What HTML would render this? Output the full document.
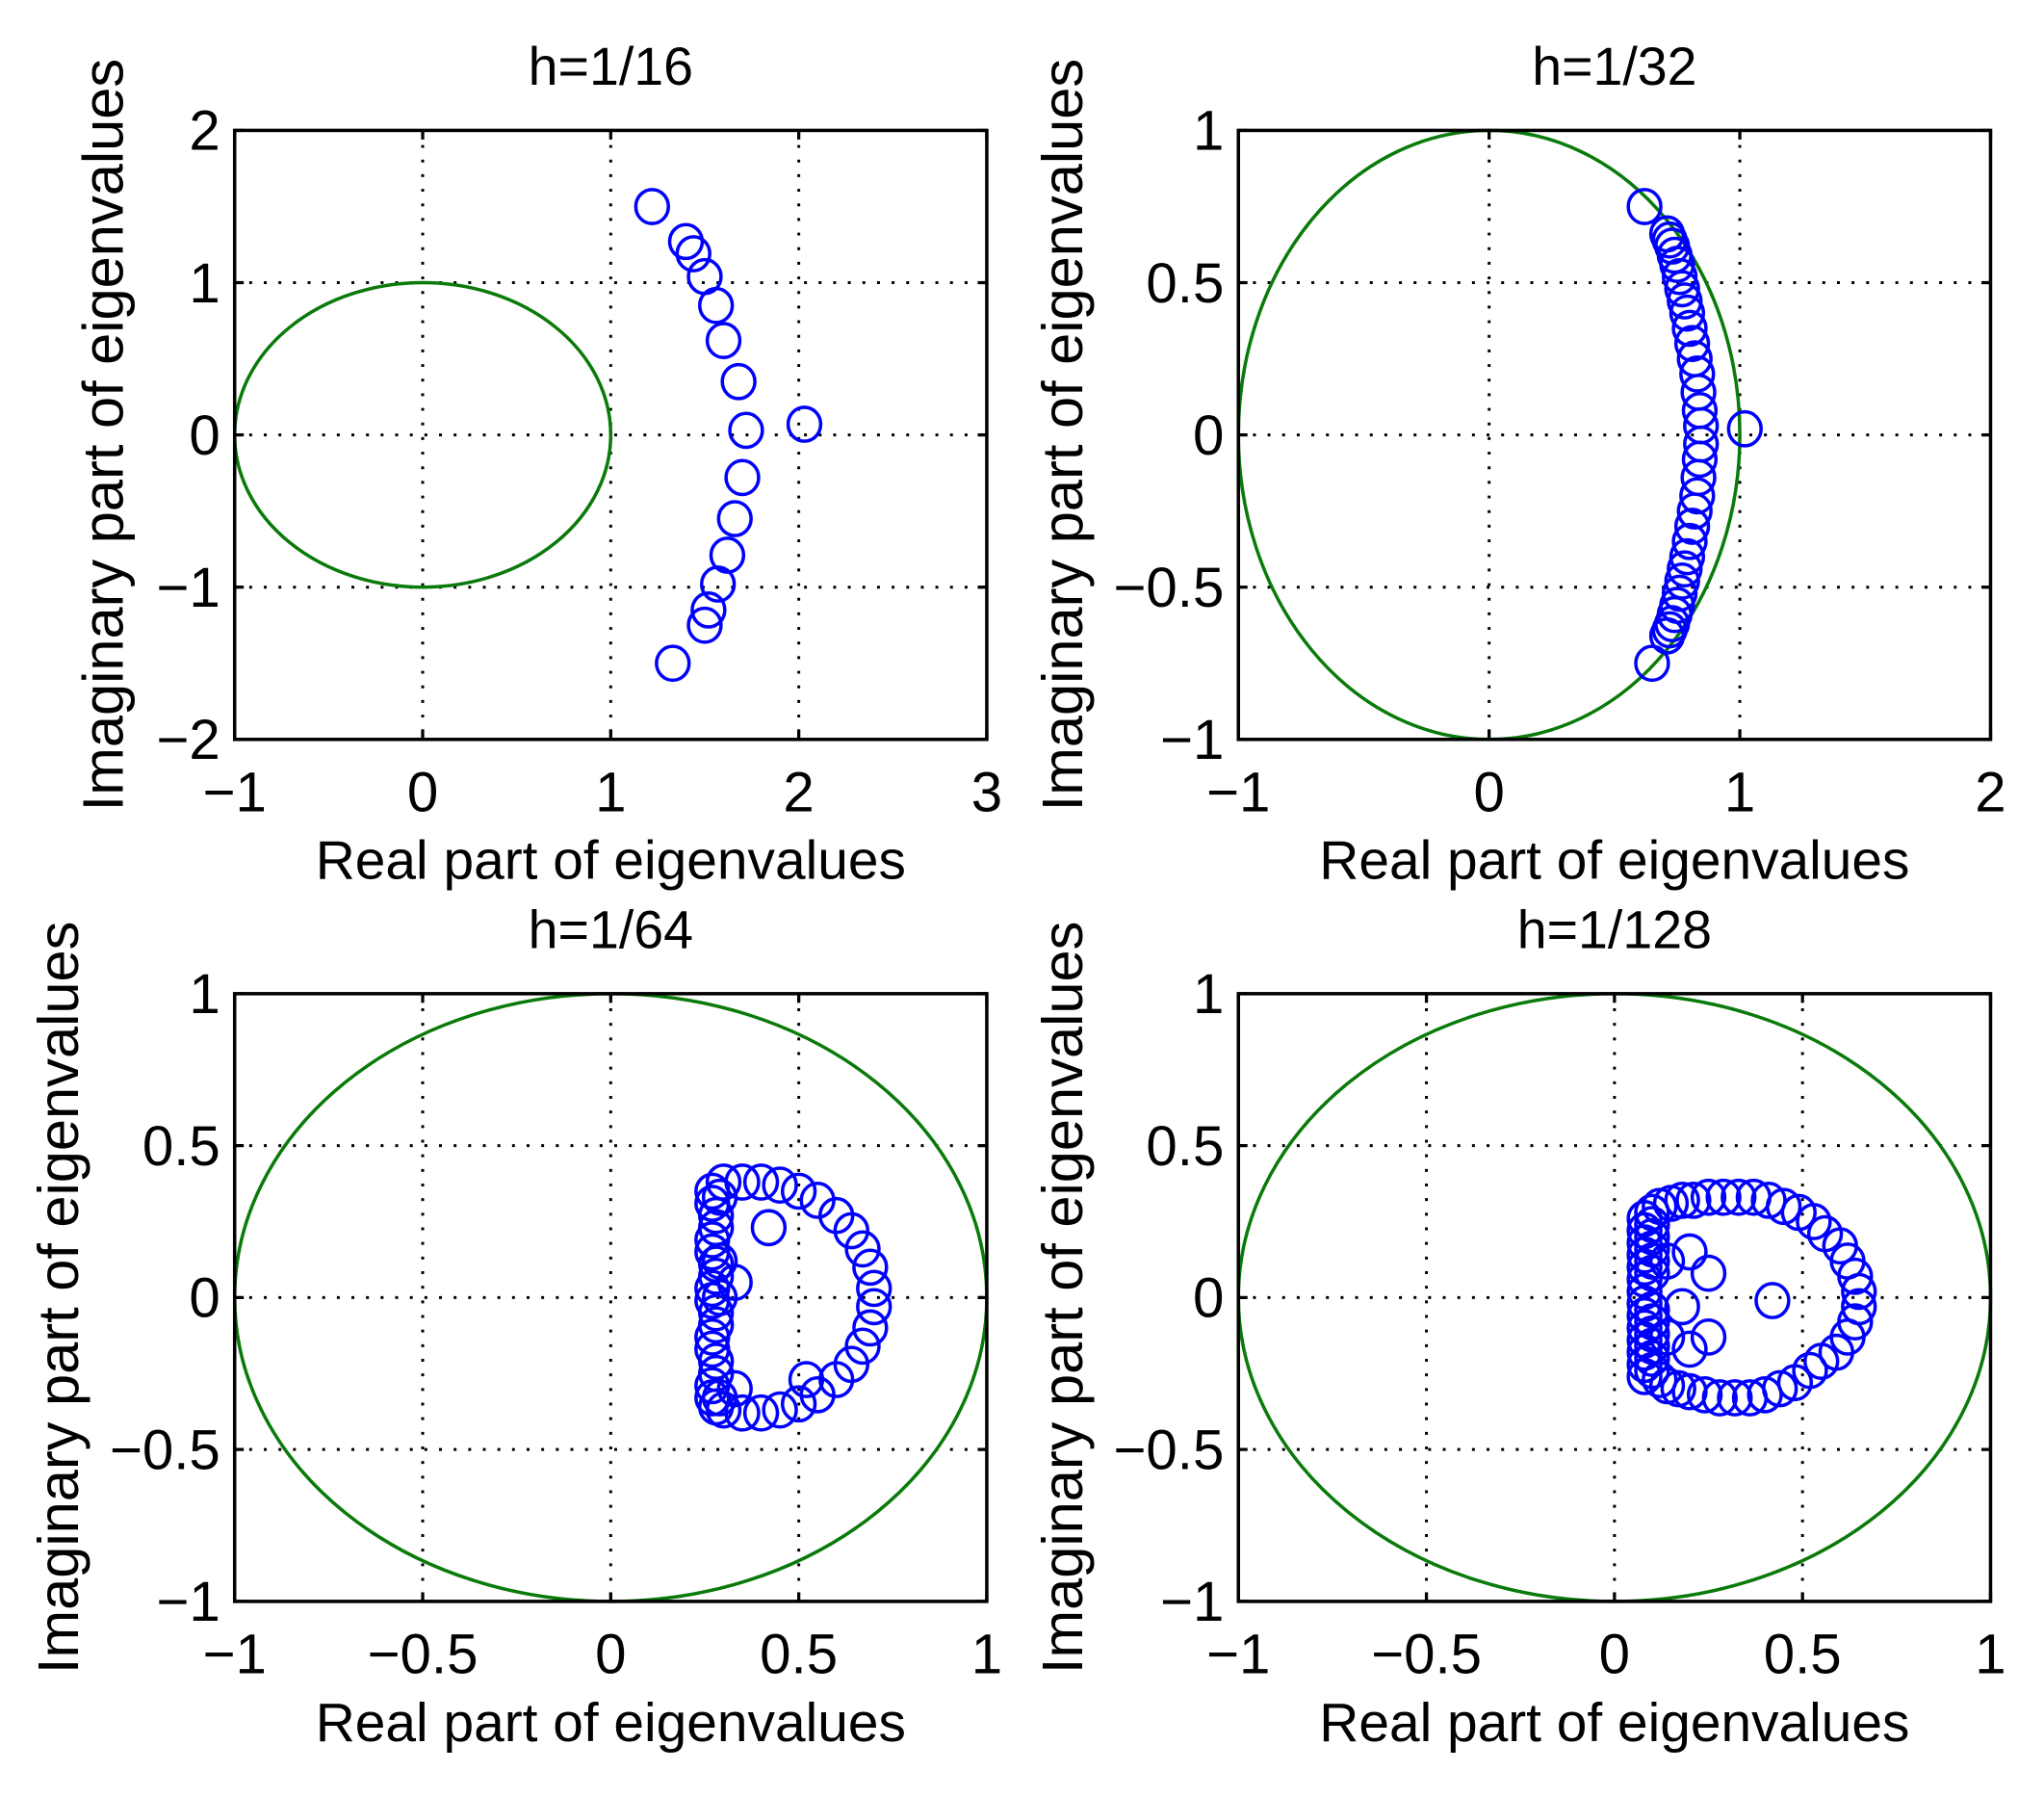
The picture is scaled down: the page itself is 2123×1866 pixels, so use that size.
<!DOCTYPE html>
<html><head><meta charset="utf-8"><style>
html,body{margin:0;padding:0;background:#fff;}
svg{display:block;}
text{font-family:"Liberation Sans",sans-serif;fill:#000;}
</style></head><body>
<svg id="fig" width="2123" height="1866" viewBox="0 0 1568 1378" preserveAspectRatio="none" xmlns="http://www.w3.org/2000/svg"></svg>
<script>
// ---- data ----
const tlX=[1.22,1.40,1.44,1.50,1.56,1.60,1.68,1.72,2.03,1.70,1.66,1.62,1.57,1.52,1.50,1.33];
const tlY=[1.50,1.27,1.19,1.04,0.85,0.62,0.35,0.03,0.07,-0.28,-0.55,-0.79,-0.98,-1.15,-1.25,-1.50];

const trX=[0.62,0.65,1.02,0.71,0.72,0.73,0.74,0.75,0.76,0.77,0.78,0.79,0.80,0.81,0.82,0.83,0.835,0.84,0.845,0.845,0.84,0.835,0.83,0.82,0.81,0.80,0.79,0.78,0.77,0.76,0.75,0.74,0.73,0.72,0.71];
const trY=[0.75,-0.75,0.02,0.66,0.64,0.62,0.59,0.56,0.52,0.48,0.44,0.40,0.35,0.30,0.25,0.20,0.14,0.08,0.03,-0.03,-0.08,-0.14,-0.20,-0.25,-0.30,-0.35,-0.40,-0.44,-0.48,-0.52,-0.56,-0.59,-0.62,-0.64,-0.66];

const blX=[0.30,0.35,0.40,0.45,0.50,0.55,0.60,0.64,0.67,0.69,0.70,0.70,0.69,0.67,0.64,0.60,0.55,0.50,0.45,0.40,0.35,0.30,0.42,0.33,0.52,0.33,
0.27,0.27,0.28,0.28,0.27,0.27,0.28,0.28,0.27,0.27,0.28,0.28,0.27,0.27,0.28,0.28,0.27,0.27,0.28,0.29,0.29,0.29,0.29];
const blY=[0.38,0.38,0.38,0.37,0.35,0.32,0.27,0.22,0.16,0.10,0.03,-0.03,-0.10,-0.16,-0.22,-0.27,-0.32,-0.35,-0.37,-0.38,-0.38,-0.37,0.23,0.05,-0.27,-0.30,
0.35,0.31,0.27,0.23,0.19,0.15,0.11,0.07,0.03,-0.01,-0.05,-0.09,-0.13,-0.17,-0.21,-0.25,-0.29,-0.33,-0.36,0.33,-0.33,0.0,0.12];

const brX=[0.12,0.15,0.18,0.21,0.25,0.29,0.33,0.37,0.41,0.45,0.49,0.53,0.56,0.60,0.62,0.64,0.65,0.65,0.64,0.62,0.59,0.55,0.52,0.48,0.44,0.40,0.36,0.32,0.28,0.24,0.20,0.17,0.14,0.12,
0.42,0.25,0.20,0.18,0.25,0.20,0.14,0.14,
0.08,0.08,0.08,0.08,0.08,0.08,0.08,0.08,0.08,0.08,0.08,0.08,0.08,0.08,0.10,0.10,0.10,0.10,0.10,0.10,0.10,0.10,0.10,0.10,0.10,0.10];
const brY=[0.30,0.31,0.32,0.32,0.33,0.33,0.33,0.33,0.32,0.30,0.28,0.25,0.21,0.17,0.12,0.07,0.02,-0.03,-0.08,-0.13,-0.18,-0.21,-0.24,-0.28,-0.30,-0.32,-0.33,-0.33,-0.33,-0.32,-0.31,-0.30,-0.29,-0.27,
-0.01,0.08,0.15,-0.03,-0.13,-0.17,0.12,-0.13,
0.26,0.22,0.18,0.14,0.10,0.06,0.02,-0.02,-0.06,-0.10,-0.14,-0.18,-0.22,-0.26,0.28,0.24,0.20,0.16,0.12,0.08,-0.04,-0.08,-0.12,-0.16,-0.20,-0.24];

const tlXTicks=[-1,0,1,2,3], tlYTicks=[-2,-1,0,1,2];
const ucXTicks=[-1,0,1,2], ucYTicks=[-1,-0.5,0,0.5,1];
const hXTicks=[-1,-0.5,0,0.5,1];
const titles=["h=1/16","h=1/32","h=1/64","h=1/128"];

const NS="http://www.w3.org/2000/svg";
const svg=document.getElementById('fig');
function mk(tag,attrs,parent){const e=document.createElementNS(NS,tag);for(const k in attrs)e.setAttribute(k,attrs[k]);(parent||svg).appendChild(e);return e;}
function fmt(v){return (v<0?'\u2212':'')+String(Math.abs(v));}

function panel(id,box,xd,yd,xt,yt,title,px,py,ylabX){
  const g=mk('g',{});
  
  
  const [L,T,R,B]=box;
  const sx=v=>L+(v-xd[0])/(xd[1]-xd[0])*(R-L);
  const sy=v=>B-(v-yd[0])/(yd[1]-yd[0])*(B-T);
  xt.slice(1,-1).forEach(v=>{const l=mk('line',{x1:sx(v),x2:sx(v),y1:T,y2:B,stroke:'#000','stroke-width':2.2,'stroke-dasharray':'2.2,9'},g);
    
    });
  yt.slice(1,-1).forEach(v=>{const l=mk('line',{x1:L,x2:R,y1:sy(v),y2:sy(v),stroke:'#000','stroke-width':2.2,'stroke-dasharray':'2.2,9'},g);
    
    });
  const c=mk('ellipse',{cx:sx(0),cy:sy(0),rx:sx(1)-sx(0),ry:sy(0)-sy(1),fill:'none',stroke:'#0a7a0a','stroke-width':2.6},g);
  
  
  for(let i=0;i<px.length;i++){
    const m=mk('ellipse',{cx:sx(px[i]),cy:sy(py[i]),rx:12.5,ry:13,fill:'none',stroke:'#0000ff','stroke-width':2.6},g);
    
    
  }
  const r=mk('rect',{x:L,y:T,width:R-L,height:B-T,fill:'none',stroke:'#000','stroke-width':2.6},g);
  
  
  xt.forEach(v=>{
    mk('line',{x1:sx(v),x2:sx(v),y1:B,y2:B-7,stroke:'#000','stroke-width':2.4},g);
    mk('line',{x1:sx(v),x2:sx(v),y1:T,y2:T+7,stroke:'#000','stroke-width':2.4},g);
    const t=mk('text',{x:sx(v),y:B+55,'text-anchor':'middle','font-size':43},g);t.textContent=fmt(v);
    
    
  });
  yt.forEach(v=>{
    mk('line',{x1:L,x2:L+7,y1:sy(v),y2:sy(v),stroke:'#000','stroke-width':2.4},g);
    mk('line',{x1:R,x2:R-7,y1:sy(v),y2:sy(v),stroke:'#000','stroke-width':2.4},g);
    const t=mk('text',{x:L-11,y:sy(v)+15,'text-anchor':'end','font-size':43},g);t.textContent=fmt(v);
    
    
  });
  const ti=mk('text',{x:(L+R)/2,y:T-35,'text-anchor':'middle','font-size':41},g);ti.textContent=title;
  
  
  const xl=mk('text',{x:(L+R)/2,y:B+107,'text-anchor':'middle','font-size':42},g);xl.textContent='Real part of eigenvalues';
  
  
  const yl=mk('text',{x:0,y:0,'text-anchor':'middle','font-size':44,transform:`translate(${ylabX},${(T+B)/2}) rotate(-90)`},g);yl.textContent='Imaginary part of eigenvalues';
  
  
}
panel('h16',[180,100,757,567],[-1,3],[-2,2],tlXTicks,tlYTicks,titles[0],tlX,tlY,94);
panel('h32',[950,100,1527,567],[-1,2],[-1,1],ucXTicks,ucYTicks,titles[1],trX,trY,830);
panel('h64',[180,762,757,1228],[-1,1],[-1,1],hXTicks,ucYTicks,titles[2],blX,blY,60);
panel('h128',[950,762,1527,1228],[-1,1],[-1,1],hXTicks,ucYTicks,titles[3],brX,brY,830);
</script>
</body></html>
